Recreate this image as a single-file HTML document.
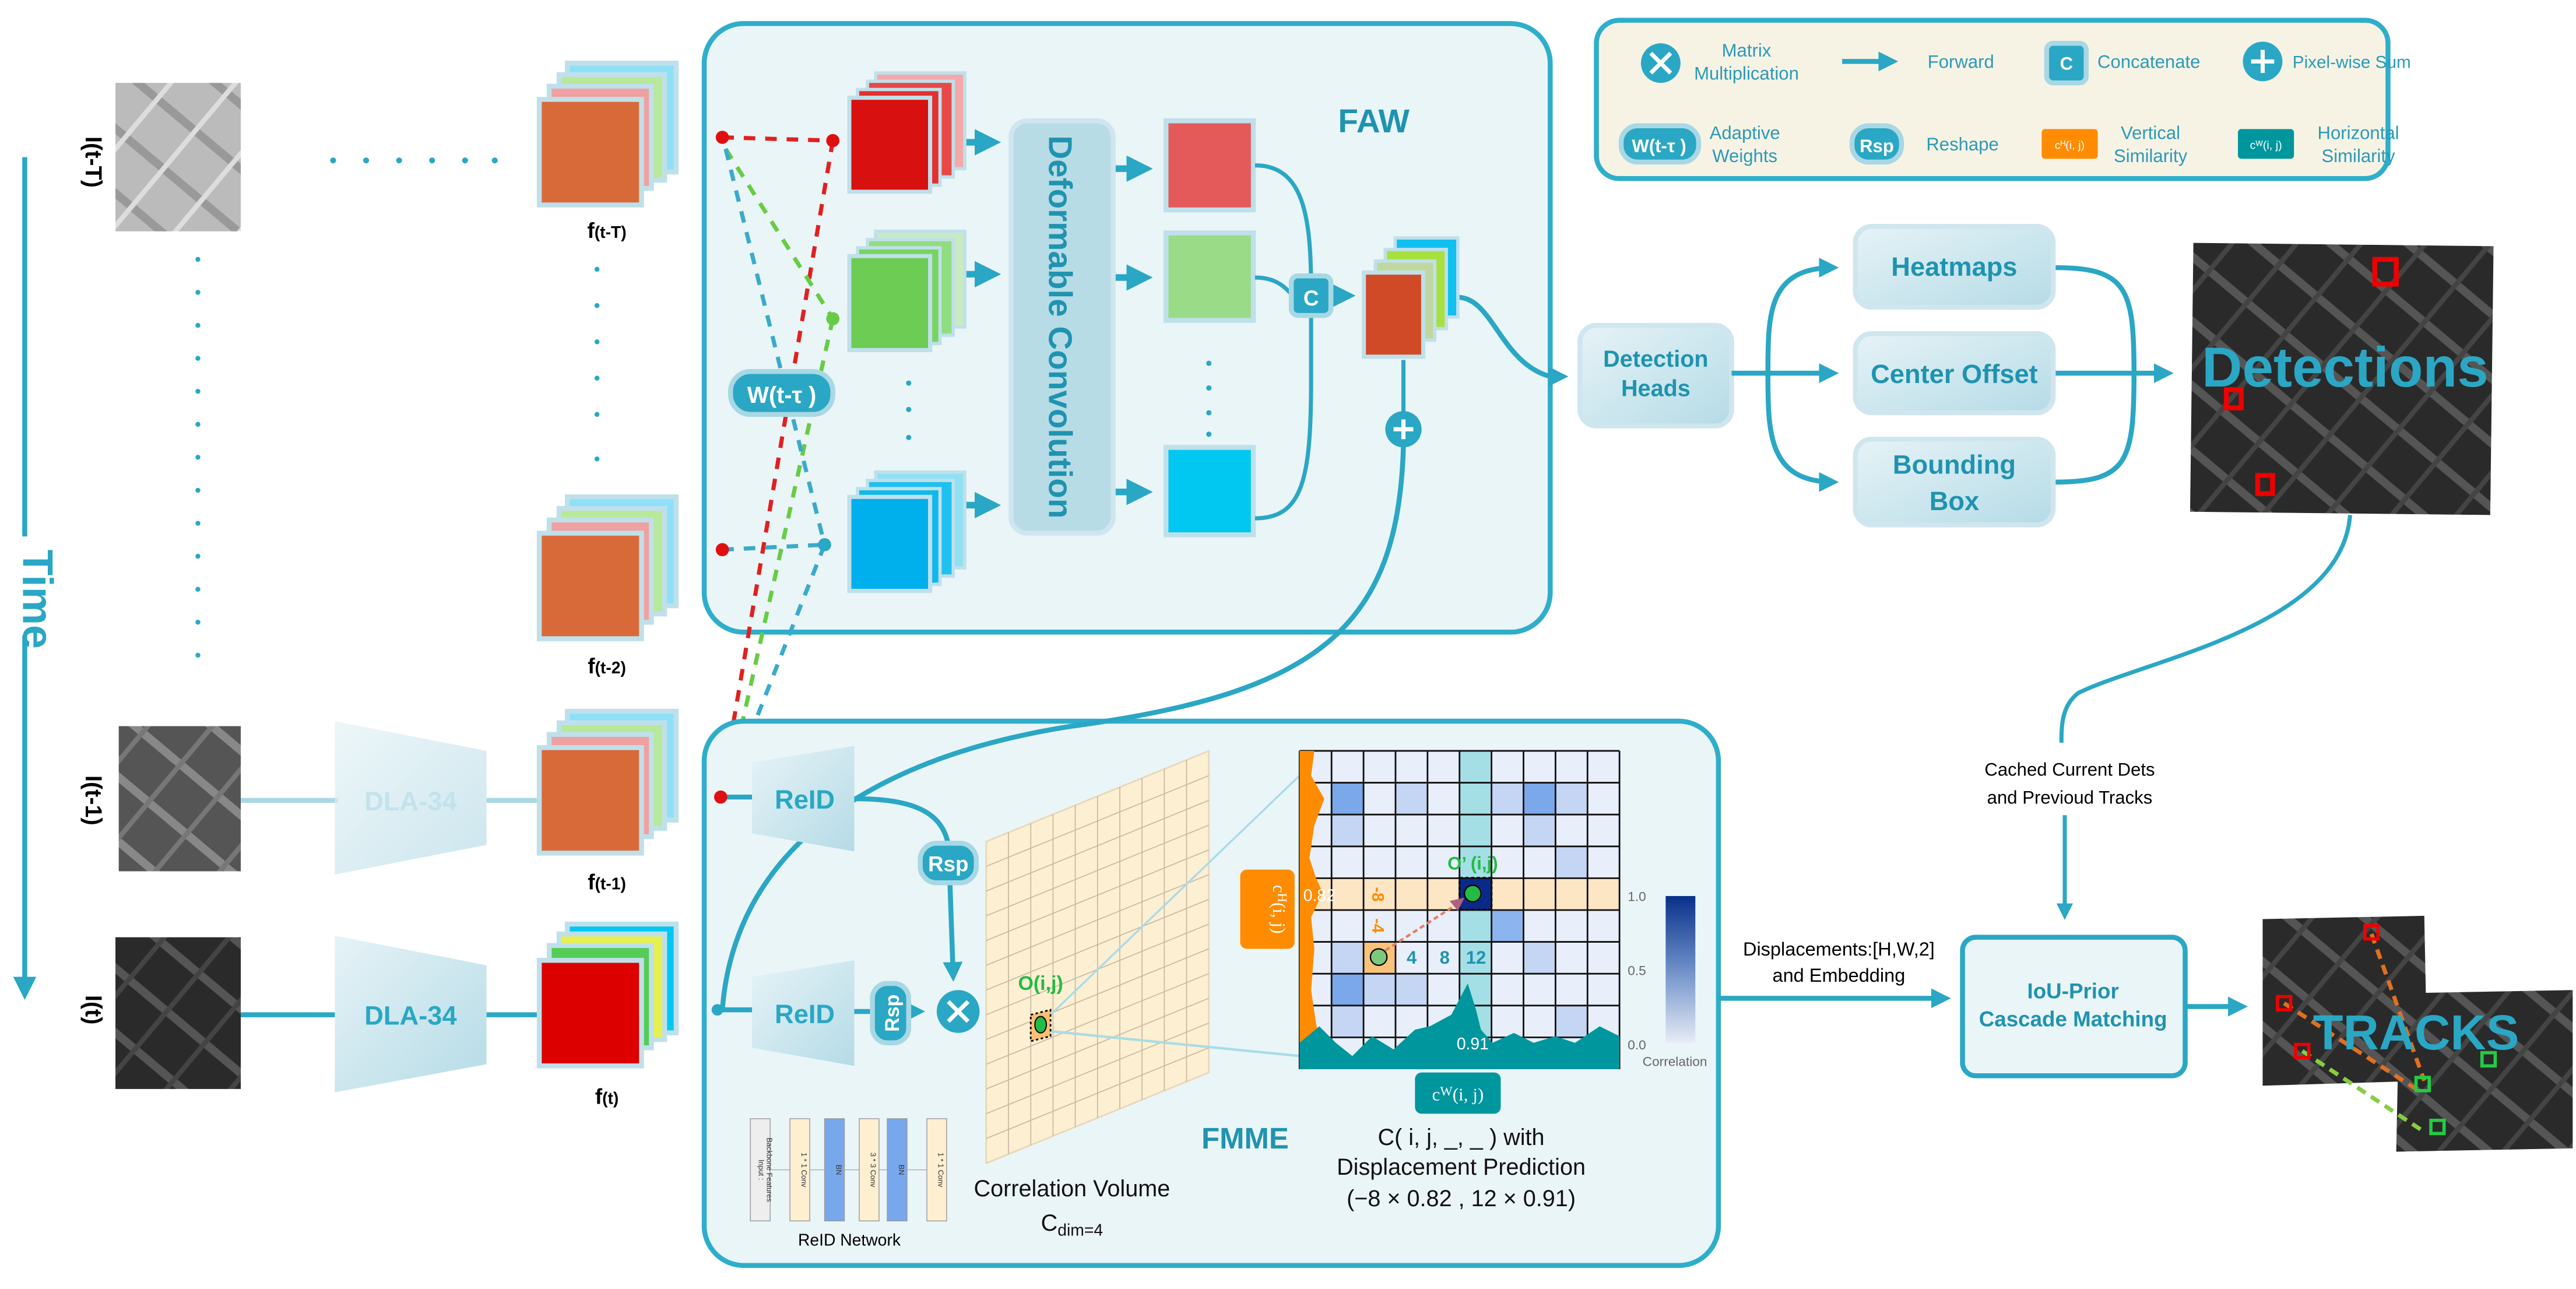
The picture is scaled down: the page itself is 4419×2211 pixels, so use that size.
<!DOCTYPE html>
<html><head><meta charset="utf-8"><style>
html,body{margin:0;padding:0;background:#fff}
svg{display:block}
text{font-family:"Liberation Sans Narrow","Liberation Sans",sans-serif}
</style></head><body>
<svg width="4419" height="2211" viewBox="0 0 1562 781" xmlns="http://www.w3.org/2000/svg">
<defs>
<marker id="ar" markerWidth="4" markerHeight="4" refX="3" refY="2" orient="auto" markerUnits="strokeWidth"><path d="M0,0 L4,2 L0,4 z" fill="#2aa7c4"/></marker>
<linearGradient id="bx" x1="0" y1="0" x2="1" y2="1"><stop offset="0" stop-color="#e6f3f7"/><stop offset="1" stop-color="#b5dbe6"/></linearGradient>
<linearGradient id="cb" x1="0" y1="1" x2="0" y2="0"><stop offset="0" stop-color="#e8ecf6"/><stop offset="0.5" stop-color="#6d8fc8"/><stop offset="1" stop-color="#08308a"/></linearGradient>
<pattern id="air" width="30" height="30" patternUnits="userSpaceOnUse" patternTransform="rotate(40)"><rect width="30" height="30" fill="#2a2a2a"/><rect x="0" y="12" width="30" height="5" fill="#555"/><rect x="20" y="0" width="3" height="30" fill="#444"/></pattern>
<pattern id="airl" width="30" height="30" patternUnits="userSpaceOnUse" patternTransform="rotate(40)"><rect width="30" height="30" fill="#bbb"/><rect x="0" y="12" width="30" height="5" fill="#999"/><rect x="20" y="0" width="3" height="30" fill="#ddd"/></pattern>
<pattern id="airm" width="30" height="30" patternUnits="userSpaceOnUse" patternTransform="rotate(40)"><rect width="30" height="30" fill="#555"/><rect x="0" y="12" width="30" height="5" fill="#888"/><rect x="20" y="0" width="3" height="30" fill="#777"/></pattern>
</defs>

<!-- Time arrow -->
<line x1="15" y1="95" x2="15" y2="595" stroke="#2aa7c4" stroke-width="3"/>
<path d="M8,592 L22,592 L15,606 z" fill="#2aa7c4"/>
<rect x="4" y="325" width="22" height="60" fill="#fff"/>
<text x="22" y="355" transform="rotate(90 14 355)" font-size="26" fill="#2aa7c4" text-anchor="middle" font-weight="bold">Time</text>

<!-- input images -->
<text transform="translate(52,98) rotate(90)" font-size="14" font-weight="bold" text-anchor="middle">I(t-T)</text>
<rect x="70" y="50" width="76" height="90" fill="url(#airl)"/>
<text transform="translate(52,485) rotate(90)" font-size="14" font-weight="bold" text-anchor="middle">I(t-1)</text>
<rect x="72" y="440" width="74" height="88" fill="url(#airm)"/>
<text transform="translate(52,612) rotate(90)" font-size="14" font-weight="bold" text-anchor="middle">I(t)</text>
<rect x="70" y="568" width="76" height="92" fill="url(#air)"/>
<g fill="#2aa7c4">
<circle cx="202" cy="97" r="1.8"/><circle cx="222" cy="97" r="1.8"/><circle cx="242" cy="97" r="1.8"/><circle cx="262" cy="97" r="1.8"/><circle cx="282" cy="97" r="1.8"/><circle cx="300" cy="97" r="1.8"/>
<circle cx="120" cy="157" r="1.5"/><circle cx="120" cy="177" r="1.5"/><circle cx="120" cy="197" r="1.5"/><circle cx="120" cy="217" r="1.5"/><circle cx="120" cy="237" r="1.5"/><circle cx="120" cy="257" r="1.5"/><circle cx="120" cy="277" r="1.5"/><circle cx="120" cy="297" r="1.5"/><circle cx="120" cy="317" r="1.5"/><circle cx="120" cy="337" r="1.5"/><circle cx="120" cy="357" r="1.5"/><circle cx="120" cy="377" r="1.5"/><circle cx="120" cy="397" r="1.5"/>
<circle cx="362" cy="163" r="1.5"/><circle cx="362" cy="185" r="1.5"/><circle cx="362" cy="207" r="1.5"/><circle cx="362" cy="229" r="1.5"/><circle cx="362" cy="251" r="1.5"/><circle cx="362" cy="278" r="1.5"/>
</g>

<!-- DLA -->
<line x1="146" y1="485" x2="205" y2="485" stroke="#a8d8e4" stroke-width="3"/>
<line x1="295" y1="485" x2="328" y2="485" stroke="#a8d8e4" stroke-width="3"/>
<path d="M203,437 L295,455 L295,512 L203,530 z" fill="url(#bx)" opacity="0.7"/>
<text x="249" y="491" font-size="16" font-weight="bold" fill="#c2e2ec" text-anchor="middle">DLA-34</text>
<line x1="146" y1="615" x2="205" y2="615" stroke="#2aa7c4" stroke-width="3"/>
<line x1="295" y1="615" x2="328" y2="615" stroke="#2aa7c4" stroke-width="3"/>
<path d="M203,567 L295,585 L295,645 L203,662 z" fill="url(#bx)"/>
<text x="249" y="621" font-size="16" font-weight="bold" fill="#2aa7c4" text-anchor="middle">DLA-34</text>

<!-- feature stacks -->
<g id="fs">
<rect x="344" y="38" width="66" height="66" fill="#8ee0f8" stroke="#bfe0ea" stroke-width="3"/>
<rect x="339" y="45" width="64" height="64" fill="#b8e89a" stroke="#bfe0ea" stroke-width="3"/>
<rect x="333" y="52" width="62" height="62" fill="#f0a0a0" stroke="#bfe0ea" stroke-width="3"/>
<rect x="327" y="60" width="62" height="64" fill="#d86a3a" stroke="#bfe0ea" stroke-width="3"/>
</g>
<use href="#fs" y="263"/>
<use href="#fs" y="393"/>
<rect x="344" y="560" width="66" height="66" fill="#00c8f0" stroke="#bfe0ea" stroke-width="3"/>
<rect x="339" y="566" width="64" height="64" fill="#e8f050" stroke="#bfe0ea" stroke-width="3"/>
<rect x="333" y="573" width="62" height="62" fill="#55cc55" stroke="#bfe0ea" stroke-width="3"/>
<rect x="327" y="582" width="62" height="64" fill="#dd0000" stroke="#bfe0ea" stroke-width="3"/>
<g font-size="13" font-weight="bold" text-anchor="middle">
<text x="368" y="144">f<tspan font-size="10">(t-T)</tspan></text>
<text x="368" y="408">f<tspan font-size="10">(t-2)</tspan></text>
<text x="368" y="539">f<tspan font-size="10">(t-1)</tspan></text>
<text x="368" y="669">f<tspan font-size="10">(t)</tspan></text>
</g>

<!-- FAW box -->
<rect x="427" y="14" width="513" height="369" rx="24" fill="#eaf5f8" stroke="#2eaecb" stroke-width="3"/>
<text x="833" y="80" font-size="20" font-weight="bold" fill="#1f93b0" text-anchor="middle">FAW</text>
<g>
<rect x="531" y="44" width="54" height="58" fill="#f4a8a8" stroke="#bfe0ea" stroke-width="2"/><rect x="526" y="49" width="52" height="58" fill="#e84848" stroke="#bfe0ea" stroke-width="2"/><rect x="520" y="54" width="50" height="58" fill="#e43030" stroke="#bfe0ea" stroke-width="2"/><rect x="515" y="59" width="49" height="57" fill="#d81010" stroke="#bfe0ea" stroke-width="2.5"/>
<rect x="531" y="140" width="54" height="58" fill="#c8ecc0" stroke="#bfe0ea" stroke-width="2"/><rect x="526" y="145" width="52" height="58" fill="#90dc80" stroke="#bfe0ea" stroke-width="2"/><rect x="520" y="150" width="50" height="58" fill="#78d460" stroke="#bfe0ea" stroke-width="2"/><rect x="515" y="155" width="49" height="57" fill="#6ccc54" stroke="#bfe0ea" stroke-width="2.5"/>
<rect x="531" y="286" width="54" height="58" fill="#90e0f4" stroke="#bfe0ea" stroke-width="2"/><rect x="526" y="291" width="52" height="58" fill="#20c0f0" stroke="#bfe0ea" stroke-width="2"/><rect x="520" y="296" width="50" height="58" fill="#10b8ec" stroke="#bfe0ea" stroke-width="2"/><rect x="515" y="301" width="49" height="57" fill="#00b0ec" stroke="#bfe0ea" stroke-width="2.5"/>
</g>
<g fill="#2aa7c4"><circle cx="551" cy="232" r="1.6"/><circle cx="551" cy="248" r="1.6"/><circle cx="551" cy="265" r="1.6"/>
<circle cx="733" cy="220" r="1.6"/><circle cx="733" cy="235" r="1.6"/><circle cx="733" cy="250" r="1.6"/><circle cx="733" cy="263" r="1.6"/></g>
<g stroke="#2aa7c4" stroke-width="4" marker-end="url(#ar)">
<line x1="586" y1="86" x2="603" y2="86"/><line x1="586" y1="166" x2="603" y2="166"/><line x1="586" y1="306" x2="603" y2="306"/>
<line x1="676" y1="102" x2="695" y2="102"/><line x1="676" y1="168" x2="695" y2="168"/><line x1="676" y1="298" x2="695" y2="298"/>
<line x1="808" y1="179" x2="818" y2="179"/>
</g>
<rect x="613" y="73" width="62" height="250" rx="10" fill="#b8dce6" stroke="#cfe6ee" stroke-width="3"/>
<text transform="translate(636,198) rotate(90)" font-size="20" font-weight="bold" fill="#1f93b0" text-anchor="middle" style="font-family:'Liberation Sans',sans-serif">Deformable Convolution</text>
<rect x="707" y="73" width="53" height="54" fill="#e45a5a" stroke="#bfe0ea" stroke-width="3"/>
<rect x="707" y="141" width="53" height="53" fill="#9adb88" stroke="#bfe0ea" stroke-width="3"/>
<rect x="707" y="271" width="53" height="53" fill="#00c8f0" stroke="#bfe0ea" stroke-width="3"/>
<g fill="none" stroke="#2aa7c4" stroke-width="2.5">
<path d="M761,100 C790,100 795,130 795,175 L795,230 C795,290 790,314 761,314"/>
<path d="M761,168 C775,168 780,175 785,180"/>
<path d="M851,218 L851,250"/>
<path d="M884,180 C905,180 910,220 940,228" stroke-width="3"/>
</g>
<rect x="783" y="167" width="24" height="24" rx="4" fill="#2aa7c4" stroke="#a8d8e4" stroke-width="3"/>
<text x="795" y="185" font-size="13" font-weight="bold" fill="#fff" text-anchor="middle">C</text>
<rect x="846" y="144" width="38" height="48" fill="#10c0f0" stroke="#bfe0ea" stroke-width="2"/>
<rect x="840" y="151" width="37" height="48" fill="#a8e040" stroke="#bfe0ea" stroke-width="2"/>
<rect x="834" y="158" width="36" height="48" fill="#c0d8a0" stroke="#bfe0ea" stroke-width="2"/>
<rect x="827" y="165" width="36" height="51" fill="#d04a28" stroke="#bfe0ea" stroke-width="2.5"/>
<circle cx="851" cy="260" r="11" fill="#2aa7c4"/>
<path d="M845,260 H857 M851,254 V266" stroke="#fff" stroke-width="2.5"/>

<!-- dashed lines -->
<g fill="none" stroke-width="2.5" stroke-dasharray="7,6">
<path d="M438,83 L505,85" stroke="#e02020"/>
<path d="M505,85 L437,483" stroke="#e02020"/>
<path d="M440,90 L505,193" stroke="#66cc44"/>
<path d="M505,193 L440,483" stroke="#66cc44"/>
<path d="M440,90 L500,330" stroke="#3aaacc"/>
<path d="M500,330 L440,483" stroke="#3aaacc"/>
<path d="M438,333 L500,330" stroke="#3aaacc"/>
</g>
<g fill="#e01010"><circle cx="438" cy="83" r="4"/><circle cx="505" cy="85" r="4"/><circle cx="438" cy="333" r="4"/><circle cx="437" cy="483" r="4"/></g>
<circle cx="505" cy="193" r="4" fill="#66cc44"/><circle cx="500" cy="330" r="4" fill="#2aa7c4"/>
<rect x="443" y="225" width="62" height="26" rx="12" fill="#2aa7c4" stroke="#a8d8e4" stroke-width="3"/>
<text x="474" y="244" font-size="14" font-weight="bold" fill="#fff" text-anchor="middle">W(t-τ )</text>

<!-- FMME box -->
<rect x="427" y="437" width="615" height="330" rx="24" fill="#eaf5f8" stroke="#2eaecb" stroke-width="3"/>
<path d="M851,270 C848,380 800,420 650,440 C520,460 445,520 438,612" fill="none" stroke="#2aa7c4" stroke-width="3"/>
<line x1="437" y1="483" x2="460" y2="483" stroke="#2aa7c4" stroke-width="3"/>
<line x1="435" y1="612" x2="460" y2="612" stroke="#2aa7c4" stroke-width="3"/>
<circle cx="435" cy="612" r="3.5" fill="#2aa7c4"/>
<circle cx="437" cy="483" r="4" fill="#e01010"/>
<path d="M456,462 L518,452 L518,516 L456,505 z" fill="url(#bx)"/>
<text x="488" y="490" font-size="16" font-weight="bold" fill="#2aa7c4" text-anchor="middle">ReID</text>
<path d="M456,592 L518,582 L518,646 L456,635 z" fill="url(#bx)"/>
<text x="488" y="620" font-size="16" font-weight="bold" fill="#2aa7c4" text-anchor="middle">ReID</text>
<g fill="none" stroke="#2aa7c4" stroke-width="3">
<path d="M518,484 C560,484 575,495 576,520"/>
<path d="M576,535 L578,592" marker-end="url(#ar)"/>
<line x1="518" y1="613" x2="528" y2="613"/>
<line x1="552" y1="613" x2="558" y2="613" marker-end="url(#ar)"/>
</g>
<rect x="558" y="511" width="34" height="24" rx="10" fill="#2aa7c4" stroke="#a8d8e4" stroke-width="3"/>
<text x="575" y="528" font-size="13" font-weight="bold" fill="#fff" text-anchor="middle">Rsp</text>
<rect x="529" y="596" width="22" height="36" rx="9" fill="#2aa7c4" stroke="#a8d8e4" stroke-width="3"/>
<text transform="translate(545,614) rotate(-90)" font-size="12" font-weight="bold" fill="#fff" text-anchor="middle">Rsp</text>
<circle cx="581" cy="613" r="13" fill="#2aa7c4"/>
<path d="M575,607 L587,619 M587,607 L575,619" stroke="#fff" stroke-width="2.5"/>

<!-- correlation volume -->
<path d="M598,510 L733,455 L733,650 L598,705 z" fill="#fdefd2" stroke="#e8d8b8"/>
<g stroke="#c8b8a0" stroke-width="0.6">
<line x1="611.5" y1="504.5" x2="611.5" y2="699.5"/><line x1="625" y1="499" x2="625" y2="694"/><line x1="638.5" y1="493.5" x2="638.5" y2="688.5"/><line x1="652" y1="488" x2="652" y2="683"/><line x1="665.5" y1="482.5" x2="665.5" y2="677.5"/><line x1="679" y1="477" x2="679" y2="672"/><line x1="692.5" y1="471.5" x2="692.5" y2="666.5"/><line x1="706" y1="466" x2="706" y2="661"/><line x1="719.5" y1="460.5" x2="719.5" y2="655.5"/>
<line x1="598" y1="525" x2="733" y2="470"/><line x1="598" y1="540" x2="733" y2="485"/><line x1="598" y1="555" x2="733" y2="500"/><line x1="598" y1="570" x2="733" y2="515"/><line x1="598" y1="585" x2="733" y2="530"/><line x1="598" y1="600" x2="733" y2="545"/><line x1="598" y1="615" x2="733" y2="560"/><line x1="598" y1="630" x2="733" y2="575"/><line x1="598" y1="645" x2="733" y2="590"/><line x1="598" y1="660" x2="733" y2="605"/><line x1="598" y1="675" x2="733" y2="620"/><line x1="598" y1="690" x2="733" y2="635"/>
</g>
<line x1="637" y1="615" x2="788" y2="470" stroke="#a8dce6" stroke-width="1.2"/>
<line x1="637" y1="625" x2="788" y2="640" stroke="#a8dce6" stroke-width="1.5"/>
<path d="M625,615 L637,612 L637,628 L625,631 z" fill="#fbc070" stroke="#000" stroke-width="1" stroke-dasharray="1.5,1.5"/>
<ellipse cx="631" cy="621" rx="3.5" ry="5" fill="#22bb44" stroke="#000" stroke-width="0.7"/>
<text x="631" y="600" font-size="12" font-weight="bold" fill="#22bb44" text-anchor="middle">O(i,j)</text>

<!-- heatmap grid -->
<g>
<rect x="788" y="455" width="194" height="193" fill="#e8effb"/>
<rect x="885" y="455" width="19.4" height="193" fill="#a4dfe6"/>
<rect x="788" y="532" width="194" height="19.3" fill="#fde6c4"/>
<g fill="#7aa8ea">
<rect x="807.4" y="474.3" width="19.4" height="19.3"/><rect x="923.8" y="474.3" width="19.4" height="19.3"/><rect x="904.4" y="551.3" width="19.4" height="19.3" fill="#8cb4ee"/><rect x="807.4" y="589.9" width="19.4" height="19.3"/><rect x="865.6" y="628.6" width="19.4" height="19.3"/>
</g>
<g fill="#c4d6f4">
<rect x="846.2" y="474.3" width="19.4" height="19.3"/><rect x="904.4" y="474.3" width="19.4" height="19.3"/><rect x="943.2" y="474.3" width="19.4" height="19.3"/><rect x="807.4" y="493.6" width="19.4" height="19.3"/><rect x="923.8" y="493.6" width="19.4" height="19.3"/><rect x="943.2" y="512.9" width="19.4" height="19.3"/><rect x="807.4" y="570.6" width="19.4" height="19.3"/><rect x="923.8" y="570.6" width="19.4" height="19.3"/><rect x="826.8" y="589.9" width="19.4" height="19.3"/><rect x="846.2" y="589.9" width="19.4" height="19.3"/><rect x="807.4" y="609.2" width="19.4" height="19.3"/><rect x="943.2" y="609.2" width="19.4" height="19.3"/>
</g>
<rect x="826.8" y="570.6" width="19.4" height="19.3" fill="#fbc27a"/>
<rect x="885" y="532" width="19.4" height="19.3" fill="#0a2a8a" stroke="#000" stroke-width="1.2" stroke-dasharray="2,1.5"/>
<g stroke="#111" stroke-width="1">
<line x1="788" y1="455" x2="982" y2="455"/><line x1="788" y1="474.3" x2="982" y2="474.3"/><line x1="788" y1="493.6" x2="982" y2="493.6"/><line x1="788" y1="512.9" x2="982" y2="512.9"/><line x1="788" y1="532.2" x2="982" y2="532.2"/><line x1="788" y1="551.5" x2="982" y2="551.5"/><line x1="788" y1="570.8" x2="982" y2="570.8"/><line x1="788" y1="590.1" x2="982" y2="590.1"/><line x1="788" y1="609.4" x2="982" y2="609.4"/><line x1="788" y1="628.7" x2="982" y2="628.7"/>
<line x1="788" y1="455" x2="788" y2="648"/><line x1="807.4" y1="455" x2="807.4" y2="648"/><line x1="826.8" y1="455" x2="826.8" y2="648"/><line x1="846.2" y1="455" x2="846.2" y2="648"/><line x1="865.6" y1="455" x2="865.6" y2="648"/><line x1="885" y1="455" x2="885" y2="648"/><line x1="904.4" y1="455" x2="904.4" y2="648"/><line x1="923.8" y1="455" x2="923.8" y2="648"/><line x1="943.2" y1="455" x2="943.2" y2="648"/><line x1="962.6" y1="455" x2="962.6" y2="648"/><line x1="982" y1="455" x2="982" y2="648"/>
</g>
<path d="M788,455 L797,455 L795,470 L803,484 L797,500 L794,520 L798,532 L802,541 L795,556 L797,575 L795,600 L798,620 L800,630 L788,648 z" fill="#ff8c00"/>
<path d="M788,648 L788,632 L800,622 L810,632 L820,640 L832,628 L845,636 L858,624 L867,622 L880,615 L890,596 L895,612 L898,624 L905,632 L918,626 L930,632 L943,628 L955,632 L970,622 L982,628 L982,648 z" fill="#00969e"/>
<circle cx="893" cy="541.5" r="5" fill="#22bb44" stroke="#000" stroke-width="0.8"/>
<circle cx="836" cy="580" r="5" fill="#7ec87e" stroke="#000" stroke-width="0.8"/>
<line x1="840" y1="576" x2="885" y2="547" stroke="#e08060" stroke-width="1.5" stroke-dasharray="3,2"/>
<path d="M888,544 L879,546 L884,552 z" fill="#b06080"/>
<text x="893" y="527" font-size="11" font-weight="bold" fill="#22bb44" text-anchor="middle">O’ (i,j)</text>
<text x="800" y="546" font-size="10" fill="#fff" text-anchor="middle">0.82</text>
<text x="893" y="636" font-size="10" fill="#fff" text-anchor="middle">0.91</text>
<text transform="translate(832,542) rotate(90)" font-size="10" font-weight="bold" fill="#ff8c00" text-anchor="middle">-8</text>
<text transform="translate(832,561) rotate(90)" font-size="10" font-weight="bold" fill="#ff8c00" text-anchor="middle">-4</text>
<g font-size="11" font-weight="bold" fill="#1f93b0" text-anchor="middle"><text x="856" y="584">4</text><text x="876" y="584">8</text><text x="895" y="584">12</text></g>
</g>
<rect x="752" y="527" width="33" height="48" rx="4" fill="#ff8c00"/>
<text transform="translate(772,551) rotate(90)" font-size="11" fill="#fff" text-anchor="middle" style="font-family:'Liberation Serif',serif">c<tspan font-size="8" dy="-3">H</tspan><tspan dy="3">(i, j)</tspan></text>
<rect x="858" y="650" width="52" height="25" rx="4" fill="#00969e"/>
<text x="884" y="667" font-size="11" fill="#fff" text-anchor="middle" style="font-family:'Liberation Serif',serif">c<tspan font-size="8" dy="-3">W</tspan><tspan dy="3">(i, j)</tspan></text>
<rect x="1010" y="543" width="18" height="89" fill="url(#cb)"/>
<g font-size="8" fill="#666"><text x="987" y="546">1.0</text><text x="987" y="591">0.5</text><text x="987" y="636">0.0</text><text x="996" y="646">Correlation</text></g>
<text x="755" y="696" font-size="18" font-weight="bold" fill="#1f93b0" text-anchor="middle">FMME</text>
<g font-size="14" text-anchor="middle" fill="#111">
<text x="886" y="694">C( i, j, _, _ ) with</text>
<text x="886" y="712">Displacement Prediction</text>
<text x="886" y="731">(−8 × 0.82 , 12 × 0.91)</text>
<text x="650" y="725">Correlation Volume</text>
<text x="650" y="746">C<tspan font-size="10" dy="3">dim=4</tspan></text>
</g>
<!-- ReID network -->
<g stroke="#999" stroke-width="0.5">
<rect x="455" y="678" width="12" height="62" fill="#eee"/>
<rect x="479" y="678" width="12" height="62" fill="#fdefd0"/>
<rect x="500" y="678" width="12" height="62" fill="#78a8ec"/>
<rect x="521" y="678" width="12" height="62" fill="#fdefd0"/>
<rect x="538" y="678" width="12" height="62" fill="#78a8ec"/>
<rect x="562" y="678" width="12" height="62" fill="#fdefd0"/>
</g>
<g stroke="#aaa" stroke-width="0.5"><line x1="467" y1="709" x2="479" y2="709"/><line x1="491" y1="709" x2="500" y2="709"/><line x1="512" y1="709" x2="521" y2="709"/><line x1="533" y1="709" x2="538" y2="709"/><line x1="550" y1="709" x2="562" y2="709"/></g>
<g font-size="4.5" fill="#333" text-anchor="middle">
<text transform="translate(460,709) rotate(90)">Input :</text><text transform="translate(465,709) rotate(90)">Backbone Features</text>
<text transform="translate(486,709) rotate(90)">1 * 1 Conv</text><text transform="translate(507,709) rotate(90)">BN</text>
<text transform="translate(528,709) rotate(90)">3 * 3 Conv</text><text transform="translate(545,709) rotate(90)">BN</text>
<text transform="translate(569,709) rotate(90)">1 * 1 Conv</text>
</g>
<text x="515" y="755" font-size="10" text-anchor="middle">ReID Network</text>

<!-- legend -->
<rect x="968" y="12" width="480" height="96" rx="14" fill="#f7f3e4" stroke="#2eaecb" stroke-width="3"/>
<g font-size="11" fill="#2a9ab8" text-anchor="middle">
<circle cx="1007" cy="38" r="12" fill="#2aa7c4"/><path d="M1001,32 L1013,44 M1013,32 L1001,44" stroke="#fff" stroke-width="2.5"/>
<text x="1059" y="34">Matrix</text><text x="1059" y="48">Multiplication</text>
<line x1="1117" y1="37" x2="1148" y2="37" stroke="#2aa7c4" stroke-width="3" marker-end="url(#ar)"/>
<text x="1189" y="41">Forward</text>
<rect x="1241" y="26" width="24" height="24" rx="4" fill="#2aa7c4" stroke="#a8d8e4" stroke-width="3"/><text x="1253" y="42" fill="#fff" font-weight="bold">C</text>
<text x="1303" y="41">Concatenate</text>
<circle cx="1372" cy="37" r="12" fill="#2aa7c4"/><path d="M1365,37 H1379 M1372,30 V44" stroke="#fff" stroke-width="2.5"/>
<text x="1426" y="41" font-size="10.5">Pixel-wise Sum</text>
<rect x="983" y="76" width="47" height="22" rx="10" fill="#2aa7c4" stroke="#a8d8e4" stroke-width="3"/><text x="1006" y="92" fill="#fff" font-weight="bold">W(t-τ )</text>
<text x="1058" y="84">Adaptive</text><text x="1058" y="98">Weights</text>
<rect x="1123" y="76" width="30" height="22" rx="10" fill="#2aa7c4" stroke="#a8d8e4" stroke-width="3"/><text x="1138" y="92" fill="#fff" font-weight="bold">Rsp</text>
<text x="1190" y="91">Reshape</text>
<rect x="1238" y="78" width="34" height="18" rx="2" fill="#ff8c00"/><text x="1255" y="90" font-size="7" fill="#fff">cᴴ(i, j)</text>
<text x="1304" y="84">Vertical</text><text x="1304" y="98">Similarity</text>
<rect x="1357" y="78" width="34" height="18" rx="2" fill="#00969e"/><text x="1374" y="90" font-size="7" fill="#fff">cᵂ(i, j)</text>
<text x="1430" y="84">Horizontal</text><text x="1430" y="98">Similarity</text>
</g>

<!-- detection heads -->
<line x1="940" y1="228" x2="948" y2="228" stroke="#2aa7c4" stroke-width="3" marker-end="url(#ar)"/>
<rect x="958" y="197" width="92" height="61" rx="10" fill="url(#bx)" stroke="#cfe6ee" stroke-width="3"/>
<text x="1004" y="222" font-size="14" font-weight="bold" fill="#1f93b0" text-anchor="middle">Detection</text>
<text x="1004" y="240" font-size="14" font-weight="bold" fill="#1f93b0" text-anchor="middle">Heads</text>
<g fill="none" stroke="#2aa7c4" stroke-width="3">
<line x1="1050" y1="226" x2="1112" y2="226" marker-end="url(#ar)"/>
<path d="M1072,226 C1072,190 1072,162 1112,162" marker-end="url(#ar)"/>
<path d="M1072,226 C1072,262 1072,292 1112,292" marker-end="url(#ar)"/>
<path d="M1246,162 C1290,162 1294,175 1294,226 C1294,280 1290,292 1246,292"/>
<line x1="1246" y1="226" x2="1315" y2="226" marker-end="url(#ar)"/>
</g>
<g font-size="16" font-weight="bold" fill="#1f93b0" text-anchor="middle">
<rect x="1125" y="137" width="120" height="49" rx="10" fill="url(#bx)" stroke="#cfe6ee" stroke-width="3"/><text x="1185" y="167">Heatmaps</text>
<rect x="1125" y="202" width="120" height="48" rx="10" fill="url(#bx)" stroke="#cfe6ee" stroke-width="3"/><text x="1185" y="232">Center Offset</text>
<rect x="1125" y="266" width="120" height="52" rx="10" fill="url(#bx)" stroke="#cfe6ee" stroke-width="3"/><text x="1185" y="287">Bounding</text><text x="1185" y="309">Box</text>
</g>
<path d="M1330,147 L1512,149 L1510,312 L1328,310 z" fill="url(#air)"/>
<g fill="none" stroke="#ee0000" stroke-width="3"><rect x="1440" y="157" width="13" height="15"/><rect x="1350" y="236" width="9" height="11"/><rect x="1369" y="288" width="9" height="11"/></g>
<text x="1422" y="234" font-size="34" font-weight="bold" fill="#2aa7c4" text-anchor="middle" style="font-family:'Liberation Sans',sans-serif">Detections</text>
<path d="M1425,312 C1420,380 1300,400 1260,420 C1250,428 1250,440 1250,450" fill="none" stroke="#2aa7c4" stroke-width="2.5"/>
<text x="1255" y="470" font-size="11" text-anchor="middle">Cached Current Dets</text>
<text x="1255" y="487" font-size="11" text-anchor="middle">and Previoud Tracks</text>
<line x1="1252" y1="494" x2="1252" y2="555" stroke="#2aa7c4" stroke-width="2.5" marker-end="url(#ar)"/>
<line x1="1042" y1="605" x2="1180" y2="605" stroke="#2aa7c4" stroke-width="3" marker-end="url(#ar)"/>
<text x="1115" y="579" font-size="11.5" text-anchor="middle">Displacements:[H,W,2]</text>
<text x="1115" y="595" font-size="11.5" text-anchor="middle">and Embedding</text>
<rect x="1190" y="568" width="135" height="84" rx="8" fill="#eaf5f8" stroke="#2aa7c4" stroke-width="3"/>
<text x="1257" y="605" font-size="13" fill="#1f93b0" text-anchor="middle" font-weight="bold">IoU-Prior</text>
<text x="1257" y="622" font-size="13" fill="#1f93b0" text-anchor="middle" font-weight="bold">Cascade Matching</text>
<line x1="1325" y1="610" x2="1360" y2="610" stroke="#2aa7c4" stroke-width="3" marker-end="url(#ar)"/>
<!-- tracks -->
<path d="M1372,557 L1470,555 L1472,655 L1372,658 z" fill="url(#air)"/>
<path d="M1455,602 L1560,600 L1560,696 L1453,698 z" fill="url(#air)"/>
<g fill="none" stroke-width="2.5" stroke-dasharray="6,4"><line x1="1438" y1="566" x2="1470" y2="655" stroke="#e07020"/><line x1="1385" y1="608" x2="1465" y2="660" stroke="#e07020"/><line x1="1396" y1="637" x2="1470" y2="686" stroke="#88cc44"/></g>
<g fill="none" stroke-width="2"><rect x="1434" y="561" width="8" height="8" stroke="#ee0000"/><rect x="1381" y="604" width="8" height="8" stroke="#ee0000"/><rect x="1392" y="633" width="8" height="8" stroke="#ee0000"/><rect x="1505" y="638" width="8" height="8" stroke="#22cc44"/><rect x="1465" y="653" width="8" height="8" stroke="#22cc44"/><rect x="1474" y="679" width="8" height="8" stroke="#22cc44"/></g>
<text x="1465" y="636" font-size="30" font-weight="bold" fill="#2aa7c4" text-anchor="middle" style="font-family:'Liberation Sans',sans-serif">TRACKS</text>
</svg>
</body></html>
